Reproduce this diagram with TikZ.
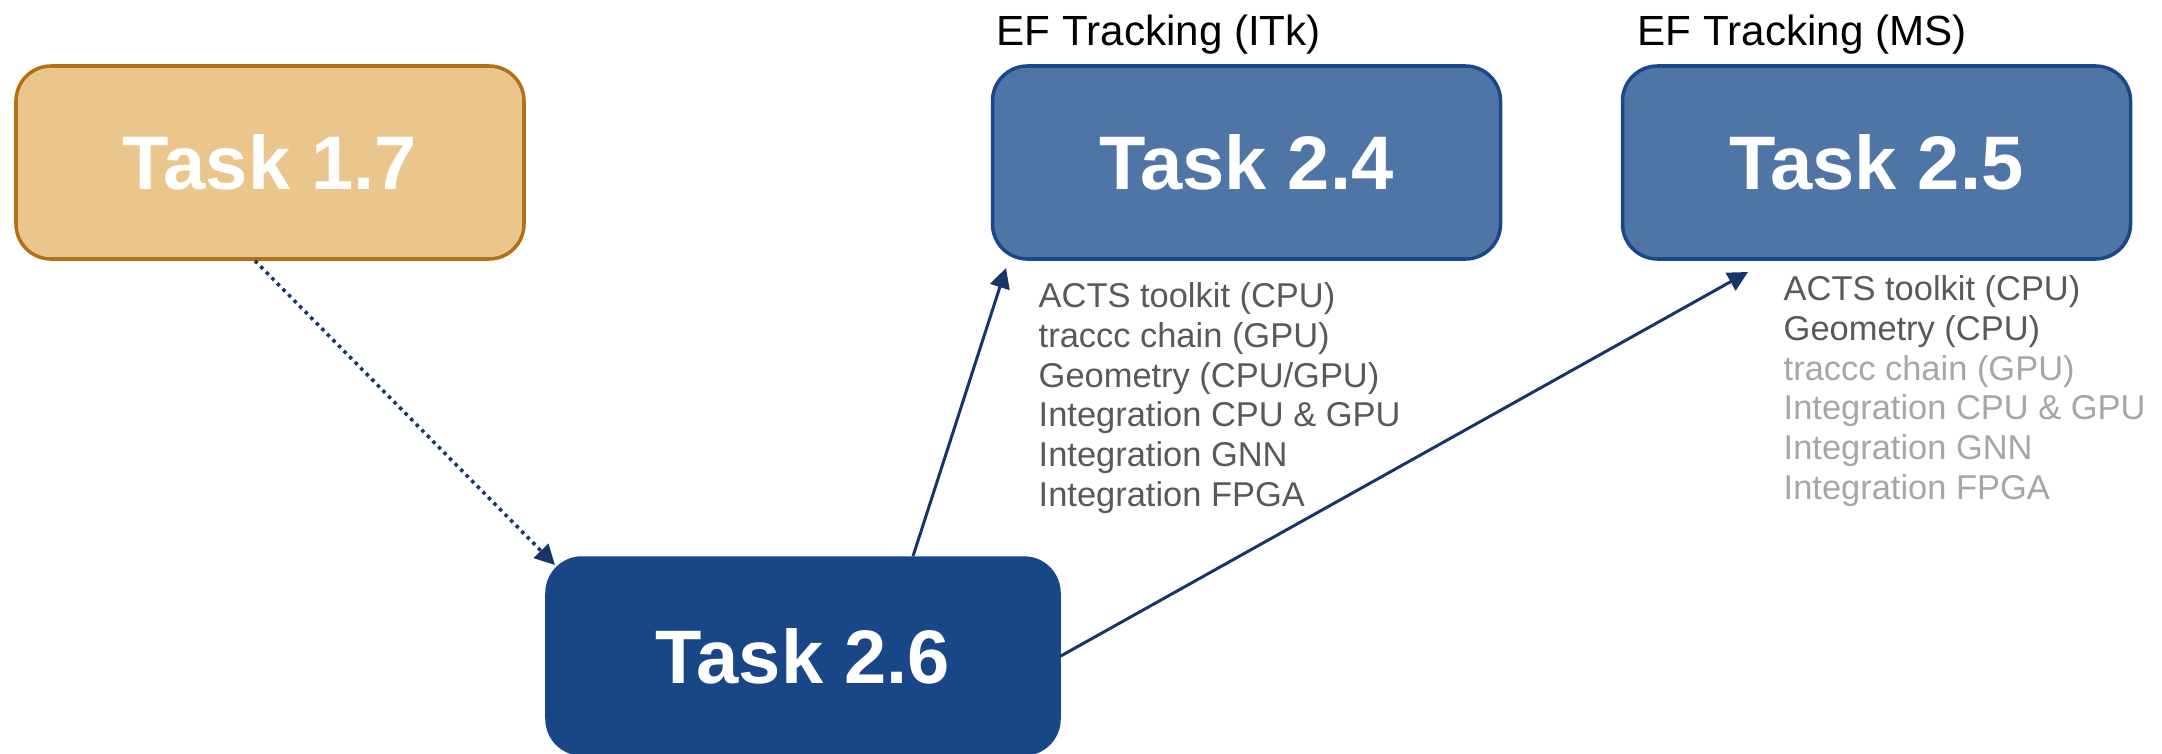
\documentclass[tikz,border=0pt]{standalone}
\usepackage{fontspec}
\setmainfont{Liberation Sans}
\usetikzlibrary{arrows.meta}
\definecolor{sandfill}{RGB}{235,198,140}
\definecolor{sanddraw}{RGB}{180,112,22}
\definecolor{midblue}{RGB}{79,116,166}
\definecolor{midbluedraw}{RGB}{26,71,137}
\definecolor{deepblue}{RGB}{24,70,135}
\definecolor{arrowblue}{RGB}{22,54,104}
\definecolor{listgray}{RGB}{89,89,89}
\definecolor{fadegray}{RGB}{166,166,166}

\begin{document}
\begin{tikzpicture}[
	task/.style={rounded corners=0.35cm, minimum width=5.08cm, minimum height=1.93cm, text=white, font=\fontsize{21.6}{26}\selectfont\bfseries, line width=1pt},
	todo/.style={font=\fontsize{9.8}{11.3}\selectfont, align=left, anchor=north west, inner sep=0pt, text=listgray},
	head/.style={font=\fontsize{12}{14}\selectfont, anchor=base west, inner sep=0pt},
	link/.style={draw=arrowblue, line width=0.85pt, -{Triangle[length=0.2cm,width=0.2cm]}},
	]
			\useasboundingbox (0,0) rectangle (21.62,-7.53);
			\node[task, fill=sandfill, draw=sanddraw]  at (2.70,-1.625)  (t17)  {Task 1.7};
			\node[task, fill=midblue, draw=midbluedraw]  at (12.465,-1.625)  (t24)  {Task 2.4};
			\node[task, fill=midblue, draw=midbluedraw]  at (18.765,-1.625)  (t25)  {Task 2.5};
			\node[task, fill=deepblue, draw=deepblue, minimum width=5.12cm, minimum height=1.96cm]  at (8.03,-6.56)  (t26)  {Task 2.6};
			\node[head]  at (9.96,-0.455)  (h24)  {EF Tracking (ITk)};
			\node[head]  at (16.37,-0.455)  (h25)  {EF Tracking (MS)};
			\node[todo]  at (10.38,-2.82)  (l24)  {ACTS toolkit (CPU)\\traccc chain (GPU)\\Geometry (CPU/GPU)\\Integration CPU \& GPU\\Integration GNN\\Integration FPGA};
			\node[todo]  at (17.83,-2.75)  (l25)  {ACTS toolkit (CPU)\\Geometry (CPU)\\\textcolor{fadegray}{traccc chain (GPU)}\\\textcolor{fadegray}{Integration CPU \& GPU}\\\textcolor{fadegray}{Integration GNN}\\\textcolor{fadegray}{Integration FPGA}};
			\coordinate (e26) at (5.55,-5.65);
			\coordinate (e24) at (10.06,-2.68);
			\coordinate (e25) at (17.48,-2.72);
			\draw[link, line width=1pt, dash pattern=on 1pt off 1.25pt] ([xshift=-0.15cm]t17.south) -- (e26);
			\draw[link] ([xshift=1.1cm]t26.north) -- (e24);
			\draw[link] (t26.east) -- (e25);
		\end{tikzpicture}
\end{document}
